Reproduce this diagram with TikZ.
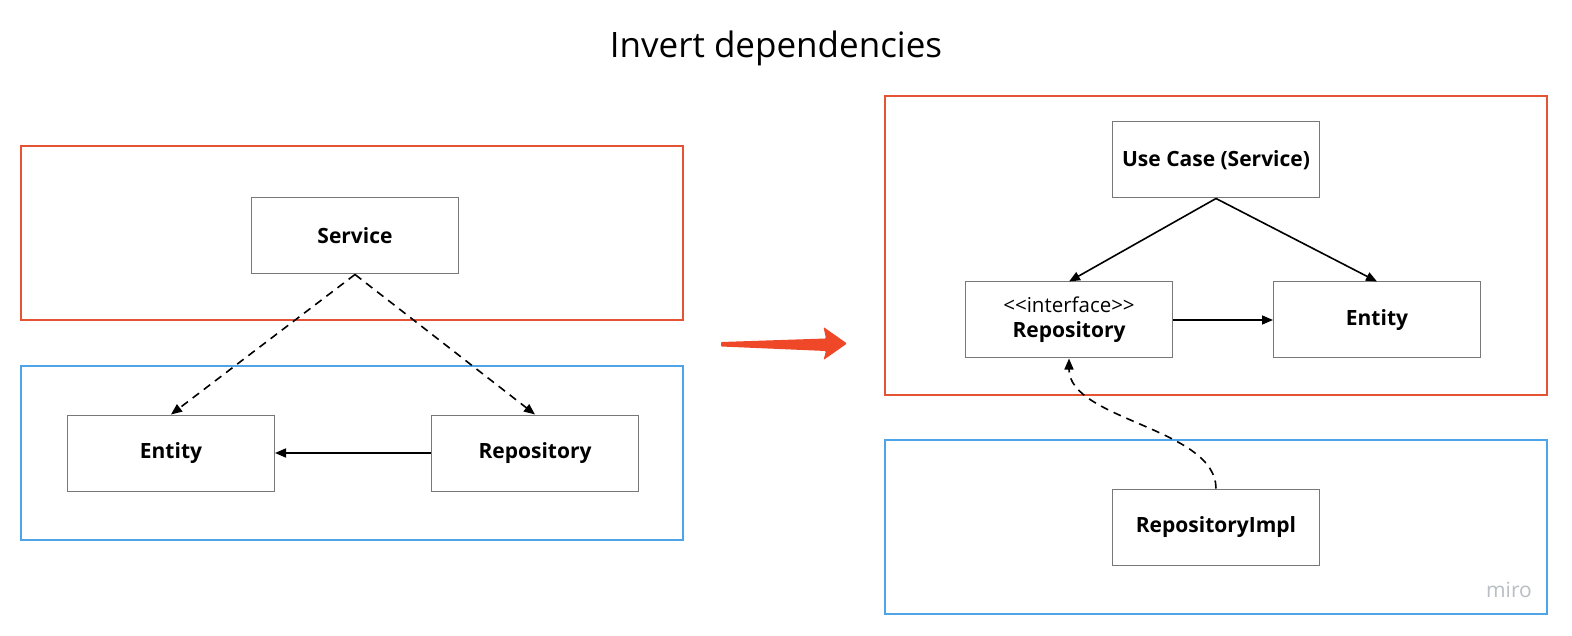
\documentclass[tikz,border=0pt]{standalone}
\usepackage{fontspec}
\setmainfont{Open Sans}
\usetikzlibrary{arrows.meta}
\definecolor{layerred}{RGB}{228,84,52}
\definecolor{layerblue}{RGB}{78,164,230}
\definecolor{boxgray}{RGB}{120,120,120}
\definecolor{arrowred}{RGB}{238,72,40}
\definecolor{wmgray}{RGB}{185,190,197}
\tikzset{
  layerbox/.style={draw=#1, line width=2pt},
  classbox/.style={draw=boxgray, line width=1pt, minimum width=207pt, minimum height=76pt, inner sep=0pt, font=\fontsize{21}{25}\selectfont\bfseries, align=center},
  dep/.style={draw=black, line width=1.6pt, -{Triangle[length=11pt,width=9pt]}},
  depdash/.style={dep, dash pattern=on 8pt off 6pt},
}
\begin{document}
\begin{tikzpicture}[x=1pt,y=-1pt]
\useasboundingbox (0,0) rectangle (1572,636);
\fill[white] (0,0) rectangle (1572,636);
\node[font=\fontsize{35}{40}\selectfont] (title) at (776,48) {Invert dependencies};
% left side
\draw[layerbox=layerred] (21,146) rectangle (683,320);
\draw[layerbox=layerblue] (21,366) rectangle (683,540);
\node[classbox] (service) at (355,236) {Service};
\node[classbox] (entityL) at (171,453) {Entity};
\node[classbox] (repoL) at (535,453) {Repository};
\draw[depdash] (service.south) -- (entityL.north);
\draw[depdash] (service.south) -- (repoL.north);
\draw[dep] (repoL.west) -- (entityL.east);
% red arrow
\fill[arrowred, rounded corners=1pt] (721,342) -- (826,338.5) -- (823.5,327) -- (847,343.5) -- (823.5,360) -- (826,351) -- (721,346.5) -- cycle;
% right side
\draw[layerbox=layerred] (885,96) rectangle (1547,395);
\draw[layerbox=layerblue] (885,440) rectangle (1547,614);
\node[classbox] (usecase) at (1216,160) {Use Case (Service)};
\node[classbox] (repoR) at (1069,320) {{\fontsize{20.5}{24}\selectfont\mdseries <{}<interface>{}>}\\[0pt]Repository};
\node[classbox] (entityR) at (1377,320) {Entity};
\node[classbox] (impl) at (1216,527) {RepositoryImpl};
\draw[dep] (usecase.south) -- (repoR.north);
\draw[dep] (usecase.south) -- (entityR.north);
\draw[dep] (repoR.east) -- (entityR.west);
\draw[depdash] (impl.north) .. controls (1216,428) and (1069,420) .. (repoR.south);
\node[font=\fontsize{21}{25}\selectfont, text=wmgray] (miro) at (1509,590) {miro};
\end{tikzpicture}
\end{document}
